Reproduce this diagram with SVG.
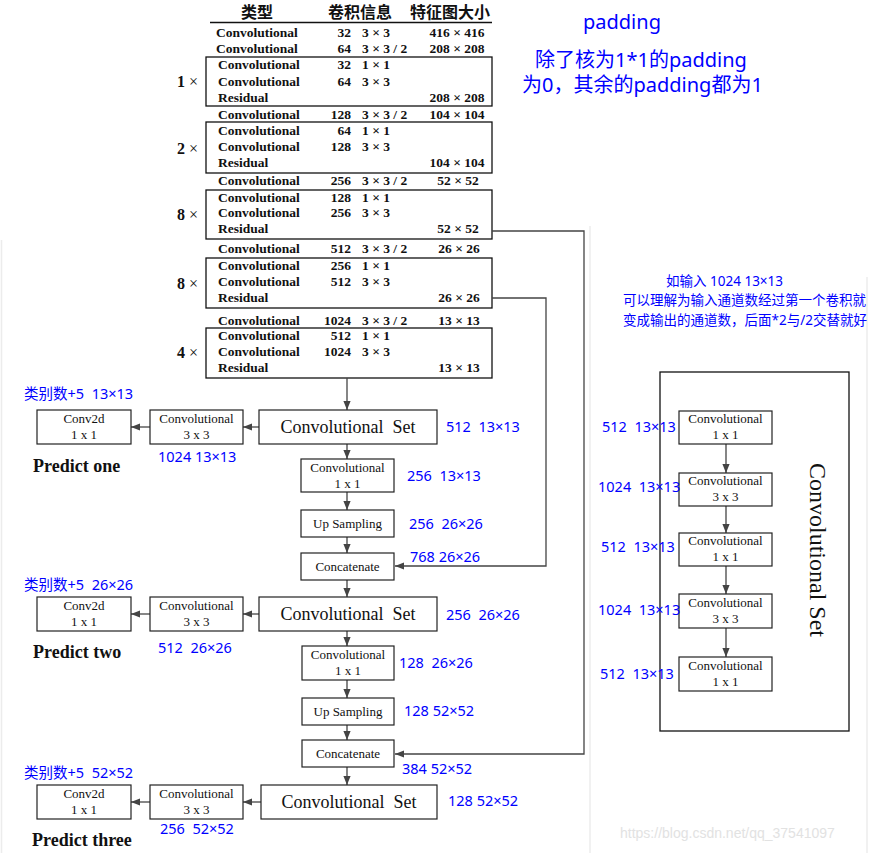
<svg xmlns="http://www.w3.org/2000/svg" width="871" height="853" viewBox="0 0 871 853">
<defs>
<style>
.t{font-family:"Liberation Serif",serif;font-weight:bold;font-size:13.5px;fill:#111}
.n{text-anchor:end}
.m{text-anchor:middle}
.hd{font-family:"Noto Sans CJK SC",sans-serif;font-weight:bold;font-size:16px;text-anchor:middle;fill:#111}
.mul{font-family:"Liberation Serif",serif;font-size:16px;fill:#111}
.bx{fill:none;stroke:#111;stroke-width:1.3}
.nb{fill:#fff;stroke:#222;stroke-width:1.2}
.lb{font-family:"Liberation Serif",serif;font-size:13px;text-anchor:middle;fill:#111}
.cs{font-family:"Liberation Serif",serif;font-size:18px;text-anchor:middle;fill:#111;white-space:pre}
.bl{font-family:"Noto Sans","Noto Sans CJK SC",sans-serif;font-size:14.5px;fill:#0000ff;white-space:pre}
.bb{font-family:"Noto Sans","Noto Sans CJK SC",sans-serif;font-size:20px;fill:#0000ff}
.bs{font-family:"Noto Sans","Noto Sans CJK SC",sans-serif;font-size:13.5px;fill:#0000ff}
.pr{font-family:"Liberation Serif",serif;font-weight:bold;font-size:18px;fill:#111}
.cn{fill:none;stroke:#444;stroke-width:1.3}
.fr{stroke:#ececec;stroke-width:1.5}
</style>
<marker id="ah" viewBox="0 0 10 10" refX="10" refY="5" markerWidth="9" markerHeight="9" markerUnits="userSpaceOnUse" orient="auto"><path d="M0,1 L10,5 L0,9 z" fill="#444"/></marker>
</defs>
<rect width="871" height="853" fill="#fff"/>
<g id="frame-edges">
<line class="fr" x1="1.5" y1="240" x2="1.5" y2="853"/>
<line class="fr" x1="590" y1="226" x2="590" y2="853"/>
<line class="fr" x1="867" y1="277" x2="867" y2="853"/>
</g>

<g id="table">
<g id="table-header">
<text class="hd" x="257" y="18">类型</text>
<text class="hd" x="360" y="18">卷积信息</text>
<text class="hd" x="450" y="18">特征图大小</text>
<line x1="210" y1="22.5" x2="492" y2="22.5" stroke="#111" stroke-width="1.5"/>
</g>
<g id="row-conv-32">
<text class="t" x="216" y="36.5">Convolutional</text><text class="t n" x="351" y="36.5">32</text><text class="t" x="362" y="36.5">3 × 3</text><text class="t m" x="457" y="36.5">416 × 416</text>
</g>
<g id="row-conv-64">
<text class="t" x="216" y="53">Convolutional</text><text class="t n" x="351" y="53">64</text><text class="t" x="362" y="53">3 × 3 / 2</text><text class="t m" x="457" y="53">208 × 208</text>
</g>
<g id="block-1x">
<rect class="bx" x="206" y="57" width="286" height="49"/>
<text class="mul" x="177" y="87"><tspan font-weight="bold">1</tspan> ×</text>
<text class="t" x="218" y="69">Convolutional</text><text class="t n" x="351" y="69">32</text><text class="t" x="362" y="69">1 × 1</text>
<text class="t" x="218" y="85.5">Convolutional</text><text class="t n" x="351" y="85.5">64</text><text class="t" x="362" y="85.5">3 × 3</text>
<text class="t" x="218" y="101.5">Residual</text><text class="t m" x="457" y="101.5">208 × 208</text>
</g>
<g id="row-conv-128">
<text class="t" x="218" y="119">Convolutional</text><text class="t n" x="351" y="119">128</text><text class="t" x="362" y="119">3 × 3 / 2</text><text class="t m" x="457" y="119">104 × 104</text>
</g>
<g id="block-2x">
<rect class="bx" x="206" y="122" width="286" height="51"/>
<text class="mul" x="177" y="154"><tspan font-weight="bold">2</tspan> ×</text>
<text class="t" x="218" y="135">Convolutional</text><text class="t n" x="351" y="135">64</text><text class="t" x="362" y="135">1 × 1</text>
<text class="t" x="218" y="151">Convolutional</text><text class="t n" x="351" y="151">128</text><text class="t" x="362" y="151">3 × 3</text>
<text class="t" x="218" y="167">Residual</text><text class="t m" x="457" y="167">104 × 104</text>
</g>
<g id="row-conv-256">
<text class="t" x="218" y="185">Convolutional</text><text class="t n" x="351" y="185">256</text><text class="t" x="362" y="185">3 × 3 / 2</text><text class="t m" x="458" y="185">52 × 52</text>
</g>
<g id="block-8x-a">
<rect class="bx" x="206" y="190" width="286" height="49"/>
<text class="mul" x="177" y="220"><tspan font-weight="bold">8</tspan> ×</text>
<text class="t" x="218" y="201.5">Convolutional</text><text class="t n" x="351" y="201.5">128</text><text class="t" x="362" y="201.5">1 × 1</text>
<text class="t" x="218" y="217">Convolutional</text><text class="t n" x="351" y="217">256</text><text class="t" x="362" y="217">3 × 3</text>
<text class="t" x="218" y="233">Residual</text><text class="t m" x="458" y="233">52 × 52</text>
</g>
<g id="row-conv-512">
<text class="t" x="218" y="253">Convolutional</text><text class="t n" x="351" y="253">512</text><text class="t" x="362" y="253">3 × 3 / 2</text><text class="t m" x="459" y="253">26 × 26</text>
</g>
<g id="block-8x-b">
<rect class="bx" x="206" y="258" width="286" height="50"/>
<text class="mul" x="177" y="289"><tspan font-weight="bold">8</tspan> ×</text>
<text class="t" x="218" y="270">Convolutional</text><text class="t n" x="351" y="270">256</text><text class="t" x="362" y="270">1 × 1</text>
<text class="t" x="218" y="286">Convolutional</text><text class="t n" x="351" y="286">512</text><text class="t" x="362" y="286">3 × 3</text>
<text class="t" x="218" y="302">Residual</text><text class="t m" x="459" y="302">26 × 26</text>
</g>
<g id="row-conv-1024">
<text class="t" x="218" y="325">Convolutional</text><text class="t n" x="351" y="325">1024</text><text class="t" x="362" y="325">3 × 3 / 2</text><text class="t m" x="459" y="325">13 × 13</text>
</g>
<g id="block-4x">
<rect class="bx" x="206" y="328" width="286" height="50"/>
<text class="mul" x="177" y="358"><tspan font-weight="bold">4</tspan> ×</text>
<text class="t" x="218" y="339.5">Convolutional</text><text class="t n" x="351" y="339.5">512</text><text class="t" x="362" y="339.5">1 × 1</text>
<text class="t" x="218" y="355.5">Convolutional</text><text class="t n" x="351" y="355.5">1024</text><text class="t" x="362" y="355.5">3 × 3</text>
<text class="t" x="218" y="371.5">Residual</text><text class="t m" x="459" y="371.5">13 × 13</text>
</g>
</g>

<g id="notes">
<text class="bb" x="583" y="29">padding</text>
<text class="bb" x="535" y="67">除了核为1*1的padding</text>
<text class="bb" x="522" y="92">为0，其余的padding都为1</text>
<text class="bs" x="666" y="286">如输入 1024 13×13</text>
<text class="bs" x="623" y="305">可以理解为输入通道数经过第一个卷积就</text>
<text class="bs" x="623" y="325">变成输出的通道数，后面*2与/2交替就好</text>
</g>

<g id="connectors">
<line class="cn" x1="347" y1="378" x2="347" y2="410" marker-end="url(#ah)"/>
<line class="cn" x1="259" y1="427" x2="243" y2="427" marker-end="url(#ah)"/>
<line class="cn" x1="150" y1="427" x2="131" y2="427" marker-end="url(#ah)"/>
<line class="cn" x1="347" y1="444" x2="347" y2="459" marker-end="url(#ah)"/>
<line class="cn" x1="347" y1="492" x2="347" y2="510" marker-end="url(#ah)"/>
<line class="cn" x1="347" y1="537" x2="347" y2="553" marker-end="url(#ah)"/>
<line class="cn" x1="347" y1="580" x2="347" y2="597" marker-end="url(#ah)"/>
<line class="cn" x1="259" y1="614" x2="243" y2="614" marker-end="url(#ah)"/>
<line class="cn" x1="150" y1="614" x2="131" y2="614" marker-end="url(#ah)"/>
<line class="cn" x1="347" y1="631" x2="347" y2="646" marker-end="url(#ah)"/>
<line class="cn" x1="347" y1="680" x2="347" y2="698" marker-end="url(#ah)"/>
<line class="cn" x1="347" y1="725" x2="347" y2="740" marker-end="url(#ah)"/>
<line class="cn" x1="347" y1="767" x2="347" y2="785" marker-end="url(#ah)"/>
<line class="cn" x1="261" y1="802" x2="243" y2="802" marker-end="url(#ah)"/>
<line class="cn" x1="150" y1="802" x2="131" y2="802" marker-end="url(#ah)"/>
<polyline class="cn" points="492,298 546,298 546,566 395,566" marker-end="url(#ah)"/>
<polyline class="cn" points="492,231 584,231 584,754 395,754" marker-end="url(#ah)"/>
<line class="cn" x1="726" y1="444" x2="726" y2="473" marker-end="url(#ah)"/>
<line class="cn" x1="726" y1="506" x2="726" y2="533" marker-end="url(#ah)"/>
<line class="cn" x1="726" y1="566" x2="726" y2="594" marker-end="url(#ah)"/>
<line class="cn" x1="726" y1="628" x2="726" y2="657" marker-end="url(#ah)"/>
</g>

<g id="stage1">
<g id="convset-1"><rect class="nb" x="259" y="410" width="178" height="34"/><text class="cs" x="348" y="433">Convolutional  Set</text></g>
<text class="bl" x="446" y="432">512  13×13</text>
<g id="conv3x3-1"><rect class="nb" x="150" y="410" width="93" height="34"/><text class="lb" x="196.5" y="423">Convolutional</text><text class="lb" x="196.5" y="439">3 x 3</text></g>
<g id="conv2d-1"><rect class="nb" x="37" y="410" width="94" height="34"/><text class="lb" x="84" y="423">Conv2d</text><text class="lb" x="84" y="439">1 x 1</text></g>
<text class="bl" x="24" y="399">类别数+5  13×13</text>
<text class="bl" x="158" y="462">1024 13×13</text>
<text class="pr" x="33" y="472">Predict one</text>
<g id="conv1x1-1"><rect class="nb" x="301" y="459" width="93" height="33"/><text class="lb" x="347.5" y="472">Convolutional</text><text class="lb" x="347.5" y="488">1 x 1</text></g>
<text class="bl" x="407" y="481">256  13×13</text>
<g id="upsample-1"><rect class="nb" x="301" y="510" width="93" height="27"/><text class="lb" x="347.5" y="527.5">Up Sampling</text></g>
<text class="bl" x="409" y="529">256  26×26</text>
<g id="concat-1"><rect class="nb" x="301" y="553" width="93" height="27"/><text class="lb" x="347.5" y="570.5">Concatenate</text></g>
<text class="bl" x="410" y="562">768 26×26</text>
</g>

<g id="stage2">
<text class="bl" x="24" y="590">类别数+5  26×26</text>
<g id="convset-2"><rect class="nb" x="259" y="597" width="178" height="34"/><text class="cs" x="348" y="620">Convolutional  Set</text></g>
<text class="bl" x="446" y="620">256  26×26</text>
<g id="conv3x3-2"><rect class="nb" x="150" y="597" width="93" height="34"/><text class="lb" x="196.5" y="610">Convolutional</text><text class="lb" x="196.5" y="626">3 x 3</text></g>
<g id="conv2d-2"><rect class="nb" x="37" y="597" width="94" height="34"/><text class="lb" x="84" y="610">Conv2d</text><text class="lb" x="84" y="626">1 x 1</text></g>
<text class="pr" x="33" y="658">Predict two</text>
<text class="bl" x="158" y="653">512  26×26</text>
<g id="conv1x1-2"><rect class="nb" x="302" y="646" width="92" height="34"/><text class="lb" x="348" y="659">Convolutional</text><text class="lb" x="348" y="675">1 x 1</text></g>
<text class="bl" x="399" y="668">128  26×26</text>
<g id="upsample-2"><rect class="nb" x="302" y="698" width="92" height="27"/><text class="lb" x="348" y="715.5">Up Sampling</text></g>
<text class="bl" x="404" y="716">128 52×52</text>
<g id="concat-2"><rect class="nb" x="302" y="740" width="92" height="27"/><text class="lb" x="348" y="757.5">Concatenate</text></g>
<text class="bl" x="402" y="774">384 52×52</text>
</g>

<g id="stage3">
<text class="bl" x="24" y="778">类别数+5  52×52</text>
<g id="convset-3"><rect class="nb" x="261" y="785" width="176" height="34"/><text class="cs" x="349" y="808">Convolutional  Set</text></g>
<text class="bl" x="448" y="806">128 52×52</text>
<g id="conv3x3-3"><rect class="nb" x="150" y="785" width="93" height="34"/><text class="lb" x="196.5" y="798">Convolutional</text><text class="lb" x="196.5" y="814">3 x 3</text></g>
<g id="conv2d-3"><rect class="nb" x="37" y="785" width="94" height="34"/><text class="lb" x="84" y="798">Conv2d</text><text class="lb" x="84" y="814">1 x 1</text></g>
<text class="bl" x="160" y="834">256  52×52</text>
<text class="pr" x="32" y="846">Predict three</text>
</g>

<g id="convset-detail">
<rect class="bx" x="660" y="372" width="189" height="359"/>
<text font-family="Liberation Serif, serif" font-size="24" fill="#111" text-anchor="middle" transform="translate(810,550) rotate(90)">Convolutional Set</text>
<g id="cs-conv1"><rect class="nb" x="679" y="411" width="93" height="33"/><text class="lb" x="725.5" y="423">Convolutional</text><text class="lb" x="725.5" y="439">1 x 1</text></g>
<g id="cs-conv2"><rect class="nb" x="679" y="473" width="93" height="33"/><text class="lb" x="725.5" y="485">Convolutional</text><text class="lb" x="725.5" y="501">3 x 3</text></g>
<g id="cs-conv3"><rect class="nb" x="679" y="533" width="93" height="33"/><text class="lb" x="725.5" y="545">Convolutional</text><text class="lb" x="725.5" y="561">1 x 1</text></g>
<g id="cs-conv4"><rect class="nb" x="679" y="594" width="93" height="34"/><text class="lb" x="725.5" y="607">Convolutional</text><text class="lb" x="725.5" y="623">3 x 3</text></g>
<g id="cs-conv5"><rect class="nb" x="679" y="657" width="93" height="34"/><text class="lb" x="725.5" y="670">Convolutional</text><text class="lb" x="725.5" y="686">1 x 1</text></g>
<text class="bl" x="602" y="432">512  13×13</text>
<text class="bl" x="598" y="492">1024  13×13</text>
<text class="bl" x="601" y="552">512  13×13</text>
<text class="bl" x="598" y="615">1024  13×13</text>
<text class="bl" x="600" y="679">512  13×13</text>
</g>

<text x="620" y="838" font-family="Liberation Sans, sans-serif" font-size="14" fill="#e2e2e2">https://blog.csdn.net/qq_37541097</text>
</svg>
